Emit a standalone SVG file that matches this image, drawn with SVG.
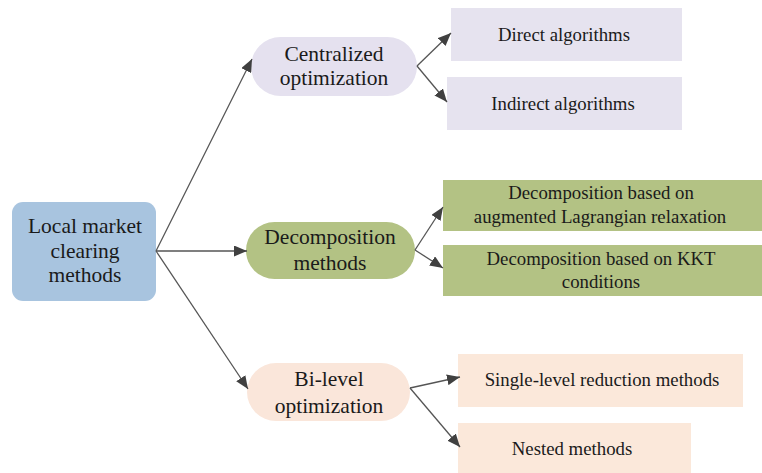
<svg xmlns="http://www.w3.org/2000/svg" width="762" height="473" viewBox="0 0 762 473">
<defs>
<marker id="ah" markerUnits="userSpaceOnUse" markerWidth="13" markerHeight="11" refX="13" refY="5.5" orient="auto">
<path d="M0,0 L13,5.5 L0,11 z" fill="#404040"/>
</marker>
<style>
text{font-family:"Liberation Serif","Times New Roman",serif;fill:#1a1a1a;text-anchor:middle}
.big{font-size:21.5px}
.sm{font-size:18.8px}
.conn line{stroke:#555;stroke-width:1.3;fill:none;marker-end:url(#ah)}
</style>
</defs>
<rect width="762" height="473" fill="#fff"/>
<g id="root">
<rect x="12" y="202" width="144" height="99" rx="11" fill="#a8c4df"/>
<text class="big" x="85" y="233">Local market</text>
<text class="big" x="85" y="258">clearing</text>
<text class="big" x="85" y="282">methods</text>
</g>
<g id="centralized">
<rect x="251" y="37" width="166" height="59" rx="29.5" fill="#e5e1ef"/>
<text class="big" x="334" y="61">Centralized</text>
<text class="big" x="334" y="85">optimization</text>
</g>
<g id="decomposition">
<rect x="246" y="222" width="169" height="57" rx="28.5" fill="#b3c284"/>
<text class="big" x="330" y="244">Decomposition</text>
<text class="big" x="330" y="270">methods</text>
</g>
<g id="bilevel">
<rect x="247" y="363" width="163" height="58" rx="29" fill="#fae6da"/>
<text class="big" x="329" y="386">Bi-level</text>
<text class="big" x="329" y="413">optimization</text>
</g>
<g id="direct">
<rect x="451" y="8" width="231" height="53" fill="#e6e3ef"/>
<text class="sm" x="564" y="41">Direct algorithms</text>
</g>
<g id="indirect">
<rect x="447" y="77" width="235" height="53" fill="#e6e3ef"/>
<text class="sm" x="563" y="110">Indirect algorithms</text>
</g>
<g id="decomp-alr">
<rect x="443" y="180" width="319" height="51" fill="#b3c284"/>
<text class="sm" x="601" y="199">Decomposition based on</text>
<text class="sm" x="600" y="223">augmented Lagrangian relaxation</text>
</g>
<g id="decomp-kkt">
<rect x="443" y="245" width="319" height="51" fill="#b3c284"/>
<text class="sm" x="601" y="265">Decomposition based on KKT</text>
<text class="sm" x="601" y="288">conditions</text>
</g>
<g id="single-level">
<rect x="458" y="354" width="285" height="53" fill="#fbe8da"/>
<text class="sm" x="602" y="386">Single-level reduction methods</text>
</g>
<g id="nested">
<rect x="458" y="423" width="233" height="50" fill="#fbe8da"/>
<text class="sm" x="572" y="455">Nested methods</text>
</g>
<g id="connectors" class="conn">
<line x1="156" y1="251" x2="252" y2="59"/>
<line x1="156" y1="251" x2="247" y2="251"/>
<line x1="156" y1="251" x2="248" y2="389"/>
<line x1="417" y1="66" x2="451" y2="33"/>
<line x1="417" y1="66" x2="447" y2="102"/>
<line x1="415" y1="250" x2="443" y2="207"/>
<line x1="415" y1="250" x2="443" y2="268"/>
<line x1="410" y1="388" x2="460" y2="377"/>
<line x1="410" y1="388" x2="460" y2="447"/>
</g>
</svg>
